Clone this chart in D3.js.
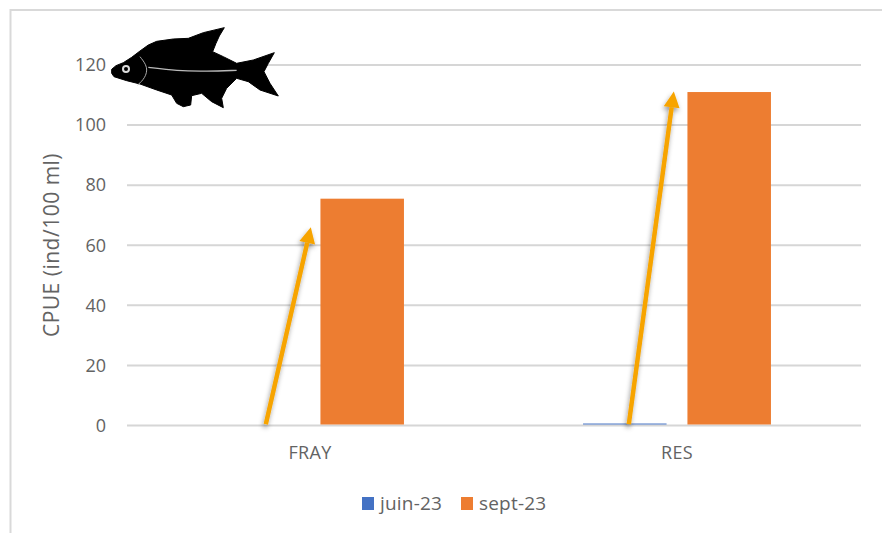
<!DOCTYPE html>
<html><head><meta charset="utf-8">
<script src="https://cdn.jsdelivr.net/npm/d3@7"></script>
<style>html,body{margin:0;padding:0;background:#fff;overflow:hidden}svg{display:block}text{font-family:"Open Sans","Noto Sans",sans-serif;fill:#636363}</style>
</head><body><svg id="c" width="882" height="533"></svg>
<script>
const categories = ["FRAY", "RES"];
const seriesNames = ["juin-23", "sept-23"];
const juin23 = [0, 0.66];
const sept23 = [75.5, 111];
const seriesColors = ["#4472c4", "#ed7d31"];
const yTicks = [0, 20, 40, 60, 80, 100, 120];
const yLabel = "CPUE (ind/100 ml)";
// arrows: [category, start value, tip value, offset from the juin-23 bar centre]
const arrowCats = ["FRAY", "RES"];
const arrowStartValues = [0.4, 0.4];
const arrowTipValues = [66, 111.2];
const arrowOffsets = [8, 4];

const svg = d3.select("#c");
const m = {l: 127, r: 861, t: 65, b: 425.5};
const x0 = d3.scaleBand().domain(categories).range([m.l - 0.5, m.r - 0.5]).paddingInner(0.488).paddingOuter(0.244);
const x1 = d3.scaleBand().domain(seriesNames).range([0, x0.bandwidth()]).paddingInner(0.2);
const y = d3.scaleLinear().domain([0, 120]).range([m.b, m.t]);

// chart frame: left and top edges only
svg.append("path").attr("d", "M10.5,533V10H882").attr("fill", "none").attr("stroke", "#d9d9d9").attr("stroke-width", 2);

const defs = svg.append("defs");
const f = defs.append("filter").attr("id", "sh").attr("x", "-50%").attr("y", "-20%").attr("width", "200%").attr("height", "140%");
f.append("feDropShadow").attr("dx", -1).attr("dy", 3).attr("stdDeviation", 2.5).attr("flood-color", "#000").attr("flood-opacity", 0.4);

// grid
svg.append("g").selectAll("line").data(yTicks).join("line")
  .attr("x1", m.l).attr("x2", m.r).attr("y1", d => y(d)).attr("y2", d => y(d))
  .attr("stroke", "#d6d6d6").attr("stroke-width", 2);

// y tick labels
const yAxis = d3.axisLeft(y).tickValues(yTicks).tickSize(0).tickPadding(0);
const ya = svg.append("g").attr("transform", "translate(106,0)").call(yAxis);
ya.select(".domain").remove();
ya.selectAll("text").attr("font-size", 18).style("font-family", '"Open Sans"').style("fill", "#636363");

// bars
const series = [juin23, sept23];
seriesNames.forEach((s, i) => {
  svg.append("g").selectAll("rect").data(categories).join("rect")
    .attr("x", c => x0(c) + x1(s))
    .attr("width", x1.bandwidth())
    .attr("y", (c, k) => y(series[i][k]))
    .attr("height", (c, k) => Math.max(0, y(0) - y(series[i][k]) - 1))
    .attr("fill", seriesColors[i]);
});

// x labels
const xAxis = d3.axisBottom(x0).tickSize(0).tickPadding(0);
const xa = svg.append("g").attr("transform", "translate(0,446)").call(xAxis);
xa.select(".domain").remove();
xa.selectAll("text").attr("font-size", 18).attr("letter-spacing", 0.3).style("font-family", '"Open Sans"').style("fill", "#636363");

// y title
svg.append("text").attr("transform", "translate(59,245) rotate(-90)").attr("text-anchor", "middle")
  .attr("font-size", 21).attr("letter-spacing", 0.5).text(yLabel);

// legend
const legendX = d3.scalePoint().domain(seriesNames).range([362, 461]);
const lg = svg.append("g").selectAll("g").data(seriesNames).join("g").attr("transform", d => `translate(${legendX(d)},497)`);
lg.append("rect").attr("width", 12).attr("height", 13).attr("fill", (d, i) => seriesColors[i]);
lg.append("text").attr("x", 18).attr("y", 12.5).attr("font-size", 19).attr("letter-spacing", 0.2).text(d => d);

// arrows
const arrowGroup = svg.append("g").attr("filter", "url(#sh)");
arrowCats.forEach((c, i) => {
  const xc = x0(c) + x1(seriesNames[0]) + x1.bandwidth() / 2;
  const xs = xc + arrowOffsets[i], xe = xs + 45;
  const ys = y(arrowStartValues[i]), ye = y(arrowTipValues[i]);
  const a = Math.atan2(ye - ys, xe - xs), L = 16, W = 8;
  const bx = xe - L * Math.cos(a), by = ye - L * Math.sin(a);
  const nx = -Math.sin(a), ny = Math.cos(a);
  arrowGroup.append("line").attr("x1", xs).attr("y1", ys).attr("x2", bx).attr("y2", by)
    .attr("stroke", "#f7a400").attr("stroke-width", 4.5);
  arrowGroup.append("path").attr("fill", "#f7a400")
    .attr("d", d3.line()([[xe, ye], [bx + nx * W, by + ny * W], [bx - nx * W, by - ny * W]]) + "Z");
});

// fish silhouette (drawn in zoom units)
const fishBody = [[65,178],[78,167],[100,158],[125,142],[150,123],[175,105],[200,94],[250,87],[295,85],[340,68],[403,53],[388,78],[378,100],[368,125],[400,140],[440,160],[490,150],[553,128],[535,160],[522,185],[540,220],[565,258],[510,240],[475,215],[440,205],[410,235],[395,265],[400,293],[365,275],[335,250],[305,257],[302,285],[280,290],[260,280],[245,255],[200,240],[150,222],[110,212],[72,200],[65,190]];
const fishGill = [[150,140],[175,172],[165,205],[143,225]];
const fishLine = [[175,172],[260,183],[350,184],[440,181]];
const fish = svg.append("g").attr("transform", "translate(90,10) scale(0.3333)");
fish.append("path").attr("d", d3.line().curve(d3.curveLinear)(fishBody) + "Z").attr("fill", "#000").attr("stroke","#000").attr("stroke-width",3).attr("stroke-linejoin","round");
fish.append("path").attr("d", d3.line().curve(d3.curveBasis)(fishGill)).attr("fill", "none").attr("stroke", "#aaa").attr("stroke-width", 3);
fish.append("path").attr("d", d3.line().curve(d3.curveBasis)(fishLine)).attr("fill", "none").attr("stroke", "#bbb").attr("stroke-width", 4);
fish.append("circle").attr("cx", 108).attr("cy", 177).attr("r", 12).attr("fill", "#ddd");
fish.append("circle").attr("cx", 108).attr("cy", 177).attr("r", 6).attr("fill", "#000");
</script></body></html>
